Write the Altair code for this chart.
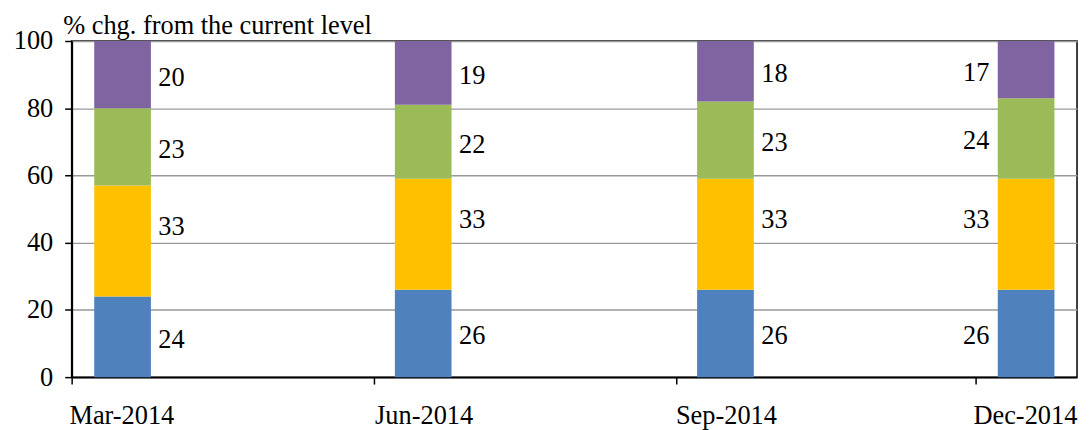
import altair as alt
import pandas as pd

# ---- data ----
periods = ["2014-03-01", "2014-06-01", "2014-09-01", "2014-12-01"]
series_names = ["Series 1", "Series 2", "Series 3", "Series 4"]
series_colors = ["#4F81BD", "#FFC000", "#9BBB59", "#8064A2"]
series1 = [24, 26, 26, 26]
series2 = [33, 33, 33, 33]
series3 = [23, 22, 23, 24]
series4 = [20, 19, 18, 17]
y_ticks = [0, 20, 40, 60, 80, 100]
y_title = "% chg. from the current level"
x_domain = ["2014-03-01", "2015-01-01"]

all_series = [series1, series2, series3, series4]
rows = []
for si, (name, vals) in enumerate(zip(series_names, all_series)):
    for p, v in zip(periods, vals):
        rows.append({"period": p, "series": name, "order": si, "value": v})
df = pd.DataFrame(rows)


def ms(s):
    return int(pd.Timestamp(s, tz="UTC").value // 10**6)


FONT = "Liberation Serif"
FS = 26.5

xscale = alt.Scale(type="utc", domain=[ms(d) for d in x_domain], padding=0, nice=False)
yscale = alt.Scale(domain=[0, 100], nice=False, padding=0)

xaxis = alt.Axis(
    values=[ms(p) for p in periods], format="%b-%Y", title=None, grid=False,
    domainColor="black", domainWidth=2, tickColor="black", tickWidth=1.5,
    tickSize=7, labelPadding=19, labelOffset=50, labelFlush=False,
    labelOverlap=False, labelFont=FONT,
    labelFontSize=FS, labelColor="black", labelBaseline="top", labelAlign="center",
)
yaxis = alt.Axis(
    values=y_ticks, title=y_title, grid=True, gridColor="#999999",
    gridWidth=1.5, domainColor="black", domainWidth=2, tickColor="black",
    tickWidth=1.5, tickSize=7, labelPadding=12, labelFlush=False, labelFont=FONT,
    labelFontSize=FS, labelColor="black",
    titleAngle=0, titleAlign="left", titleBaseline="alphabetic",
    titleX=-9, titleY=-8, titleFont=FONT, titleFontSize=FS,
    titleFontWeight="normal", titleColor="black",
)

base = alt.Chart(df).transform_stack(
    stack="value", groupby=["period"], as_=["y0", "y1"],
    sort=[alt.SortField("order", order="ascending")],
).transform_calculate(
    mid="(time(utcOffset('month', toDate(datum.period), 1)) + time(toDate(datum.period))) / 2",
    ly="(datum.y0 + datum.y1) / 2 + (datum.order == 1 ? 5 : 0)",
)

bars = base.mark_bar(size=57).encode(
    x=alt.X("mid:T", scale=xscale, axis=xaxis),
    y=alt.Y("y1:Q", scale=yscale, axis=yaxis),
    y2="y0:Q",
    color=alt.Color("series:N", scale=alt.Scale(domain=series_names, range=series_colors), legend=None),
)

last = periods[-1]
text_right = base.transform_filter(alt.datum.period != last).mark_text(
    align="left", baseline="middle", dx=36, dy=3, font=FONT, fontSize=FS, color="black"
).encode(x=alt.X("mid:T"), y=alt.Y("ly:Q"), text="value:Q")

text_left = base.transform_filter(alt.datum.period == last).mark_text(
    align="right", baseline="middle", dx=-37, dy=3, font=FONT, fontSize=FS, color="black"
).encode(x=alt.X("mid:T"), y=alt.Y("ly:Q"), text="value:Q")

chart = alt.layer(bars, text_right, text_left).properties(
    width=1011, height=338,
    padding={"left": 64, "top": 32, "right": 4, "bottom": 56},
    autosize="none",
).configure_view(stroke="black", strokeWidth=1.5)

chart.save("out.html", embed_options={"renderer": "svg", "actions": False})
